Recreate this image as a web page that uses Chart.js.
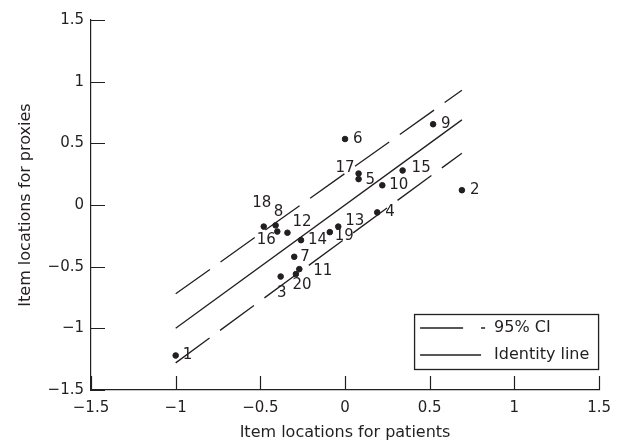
<!DOCTYPE html>
<html lang="en">
<head>
<meta charset="UTF-8">
<title>Item locations: patients vs proxies</title>
<style>
  body { margin: 0; padding: 0; background: #fff; }
</style>
<script src="https://cdn.jsdelivr.net/npm/chart.js"></script>
</head>
<body>
<canvas id="myChart" width="620" height="444"></canvas>
<script>
// item numbers and locations
const itemLabels = ['1','2','3','4','5','6','7','8','9','10','11','12','13','14','15','16','17','18','19','20'];
const patientLoc = [-1.0, 0.69, -0.38, 0.19, 0.08, 0.0, -0.30, -0.41, 0.52, 0.22, -0.27, -0.34, -0.04, -0.26, 0.34, -0.40, 0.08, -0.48, -0.09, -0.29];
const proxyLoc   = [-1.22, 0.12, -0.58, -0.06, 0.21, 0.535, -0.42, -0.165, 0.655, 0.16, -0.52, -0.225, -0.175, -0.285, 0.28, -0.215, 0.255, -0.175, -0.22, -0.56];

// identity line and 95% CI bands, over the range of patient locations
const lineX = [-1.0, 0.69];
const identityY = [-1.0, 0.69];
const ciUpperY = [-0.72, 0.93];
const ciLowerY = [-1.28, 0.42];

const axisMin = -1.5, axisMax = 1.5, tickStep = 0.5;

// label placement for each item number: [dx, dy, align]
const labelPlace = [
  [7,0,'left'], [8,0,'left'], [1,17,'center'], [8,0,'left'], [7,1,'left'],
  [8,0,'left'], [6,0,'left'], [3,-13,'center'], [8,0,'left'], [7,0,'left'],
  [14,2,'left'], [5,-11,'left'], [7,-5,'left'], [7,0,'left'], [9,-2,'left'],
  [-11,9,'center'], [-4,-5,'right'], [-2,-23,'center'], [5,4,'left'], [6,11,'center']
];

const ink = '#231f20';
const fontFam = '"DejaVu Sans", sans-serif';

const pts = patientLoc.map((x, i) => ({x: x, y: proxyLoc[i]}));
const toLine = ys => lineX.map((x, i) => ({x: x, y: ys[i]}));

const fmt = v => (v < 0 ? '\u2212' : '') + Math.abs(v).toString();

// inward tick marks, point labels and the boxed legend
const extras = {
  id: 'extras',
  afterDatasetsDraw(chart) {
    const ctx = chart.ctx;
    const meta = chart.getDatasetMeta(0);
    ctx.save();
    ctx.fillStyle = ink;
    ctx.font = '15px ' + fontFam;
    ctx.textBaseline = 'middle';
    meta.data.forEach((el, i) => {
      const p = labelPlace[i];
      ctx.textAlign = p[2];
      ctx.fillText(itemLabels[i], el.x + p[0], el.y + p[1]);
    });
    ctx.restore();
  },
  afterDraw(chart) {
    const ctx = chart.ctx;
    const ca = chart.chartArea;
    const xs = chart.scales.x, ys = chart.scales.y;
    ctx.save();
    ctx.strokeStyle = ink;
    ctx.lineWidth = 1.2;
    ctx.beginPath();
    xs.ticks.forEach(t => {
      const px = Math.round(xs.getPixelForValue(t.value)) + 0.5;
      ctx.moveTo(px, ca.bottom);
      ctx.lineTo(px, ca.bottom - 14);
    });
    ys.ticks.forEach(t => {
      const py = Math.round(ys.getPixelForValue(t.value)) + 0.5;
      ctx.moveTo(ca.left, py);
      ctx.lineTo(ca.left + 14, py);
    });
    ctx.stroke();

    // legend box
    const bx = ca.right - 185, by = ca.bottom - 76, bw = 184, bh = 55;
    ctx.fillStyle = '#fff';
    ctx.fillRect(bx, by, bw, bh);
    ctx.lineWidth = 1.3;
    ctx.strokeRect(bx + 0.5, by + 0.5, bw, bh);
    ctx.beginPath();
    ctx.setLineDash([43, 18]);
    ctx.moveTo(bx + 6, by + 14);
    ctx.lineTo(bx + 71, by + 14);
    ctx.stroke();
    ctx.setLineDash([]);
    ctx.beginPath();
    ctx.moveTo(bx + 6, by + 41);
    ctx.lineTo(bx + 67, by + 41);
    ctx.stroke();
    ctx.fillStyle = ink;
    ctx.font = '16px ' + fontFam;
    ctx.textAlign = 'left';
    ctx.textBaseline = 'middle';
    ctx.fillText('95% CI', bx + 80, by + 14);
    ctx.fillText('Identity line', bx + 80, by + 41);
    ctx.restore();
  }
};

const ctx = document.getElementById('myChart').getContext('2d');
new Chart(ctx, {
  type: 'scatter',
  data: {
    datasets: [
      {
        label: 'Items',
        data: pts,
        backgroundColor: ink,
        borderColor: ink,
        pointRadius: 2.8,
        pointHoverRadius: 2.8
      },
      {
        label: 'Identity line',
        type: 'line',
        data: toLine(identityY),
        borderColor: ink,
        borderWidth: 1.3,
        pointRadius: 0,
        fill: false
      },
      {
        label: '95% CI',
        type: 'line',
        data: toLine(ciUpperY),
        borderColor: ink,
        borderWidth: 1.3,
        borderDash: [42, 13],
        pointRadius: 0,
        fill: false
      },
      {
        label: '95% CI lower',
        type: 'line',
        data: toLine(ciLowerY),
        borderColor: ink,
        borderWidth: 1.3,
        borderDash: [42, 13],
        pointRadius: 0,
        fill: false
      }
    ]
  },
  options: {
    responsive: false,
    animation: false,
    devicePixelRatio: 1,
    layout: { padding: { top: 20, right: 16, left: 0, bottom: 0 } },
    plugins: { legend: { display: false }, tooltip: { enabled: false } },
    scales: {
      x: {
        type: 'linear',
        min: axisMin,
        max: axisMax,
        afterFit: s => { s.height = 54; },
        grid: { display: true, drawOnChartArea: false, drawTicks: false },
        border: { display: true, color: ink, width: 1.2 },
        ticks: {
          stepSize: tickStep,
          padding: 9,
          color: ink,
          font: { family: fontFam, size: 15 },
          maxRotation: 0,
          callback: v => fmt(v)
        },
        title: {
          display: true,
          text: 'Item locations for patients',
          color: ink,
          font: { family: fontFam, size: 16 },
          padding: { top: 0, bottom: 2 }
        }
      },
      y: {
        type: 'linear',
        min: axisMin,
        max: axisMax,
        afterFit: s => { s.width = 91; },
        grid: { display: true, drawOnChartArea: false, drawTicks: false },
        border: { display: true, color: ink, width: 1.2 },
        ticks: {
          stepSize: tickStep,
          padding: 7,
          color: ink,
          font: { family: fontFam, size: 15 },
          callback: v => fmt(v)
        },
        title: {
          display: true,
          text: 'Item locations for proxies',
          color: ink,
          font: { family: fontFam, size: 16 },
          padding: { top: 16, bottom: 0 }
        }
      }
    }
  },
  plugins: [extras]
});
</script>
</body>
</html>
